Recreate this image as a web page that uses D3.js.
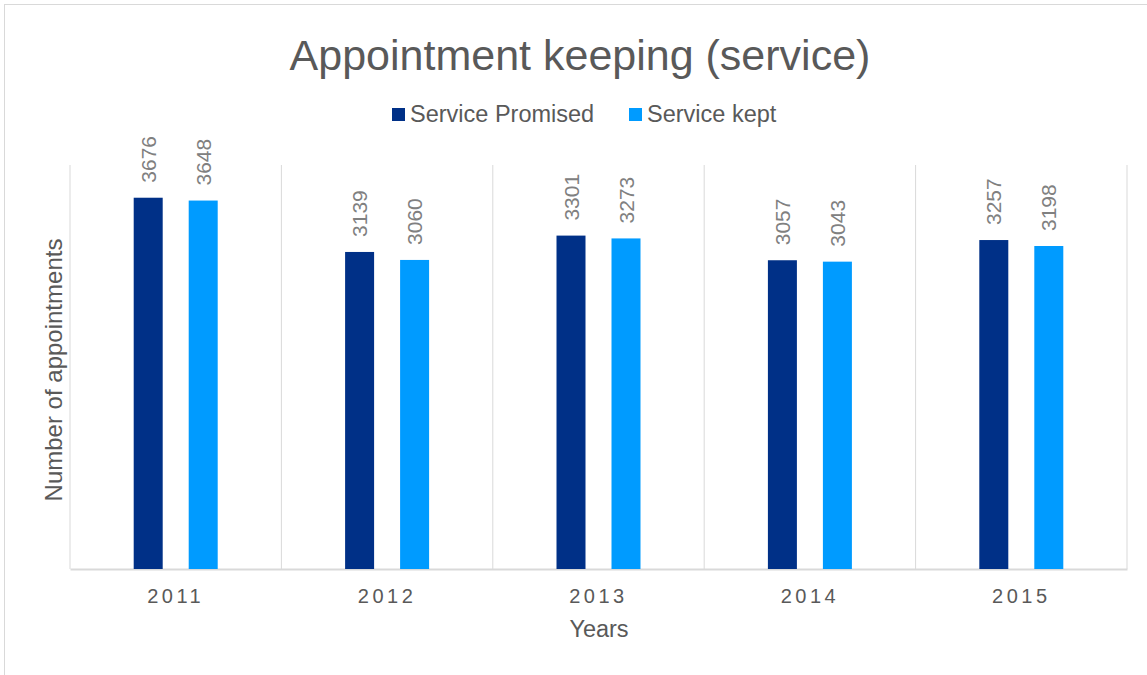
<!DOCTYPE html>
<html>
<head>
<meta charset="utf-8">
<script src="https://cdn.jsdelivr.net/npm/d3@7"></script>
<style>
  body { margin: 0; background: #fff; }
  svg { display: block; font-family: "Liberation Sans", Arial, sans-serif; }
</style>
</head>
<body>
<svg id="chart" width="1147" height="675"></svg>
<script>
var years = ['2011', '2012', '2013', '2014', '2015'];
var seriesNames = ['Service Promised', 'Service kept'];
var promised = [3676, 3139, 3301, 3057, 3257];
var kept = [3648, 3060, 3273, 3043, 3198];
var yDomain = [0, 4000];

var colors = ['#003087', '#009bff'];

var svg = d3.select('#chart'),
    margin = {top: 165, right: 20, bottom: 106, left: 70},
    width = 1127 - margin.left,
    height = 569 - margin.top;

// outer chart border (only top and left are visible in the frame)
svg.append('rect')
    .attr('x', 4.5).attr('y', 4.5)
    .attr('width', 1160).attr('height', 690)
    .style('fill', 'none')
    .style('stroke', '#d9d9d9');

var g = svg.append('g')
    .attr('transform', 'translate(' + margin.left + ',' + margin.top + ')');

var x = d3.scaleBand().domain(years).range([0, width]);
var y = d3.scaleLinear().domain(yDomain).range([height, 0]);

// vertical separators between categories
var seps = d3.range(years.length + 1).map(function(i) { return i * x.step(); });
g.selectAll('.sep')
    .data(seps)
    .enter()
    .append('line')
    .attr('class', 'sep')
    .attr('x1', function(d) { return d; })
    .attr('x2', function(d) { return d; })
    .attr('y1', 0)
    .attr('y2', height)
    .style('stroke', '#d9d9d9')
    .style('stroke-width', 1);

// x axis
var xAxis = g.append('g')
    .attr('transform', 'translate(0,' + height + ')')
    .call(d3.axisBottom(x).tickSize(0).tickPadding(20));
xAxis.select('.domain').style('stroke', '#d9d9d9').style('stroke-width', 2);
xAxis.selectAll('text')
    .style('font-size', '20px')
    .style('fill', '#595959')
    .style('letter-spacing', '3.5px')
    .style('font-family', '"Liberation Sans", Arial, sans-serif');

// bars
var barW = 29, gap = 26;
var rows = years.map(function(yr, i) { return {year: yr, vals: [promised[i], kept[i]]}; });

var grp = g.selectAll('.yr')
    .data(rows)
    .enter()
    .append('g')
    .attr('class', 'yr')
    .attr('transform', function(d) { return 'translate(' + (x(d.year) + x.bandwidth() / 2) + ',0)'; });

var offs = [-(gap / 2 + barW), gap / 2];

grp.selectAll('rect')
    .data(function(d) { return d.vals; })
    .enter()
    .append('rect')
    .attr('x', function(d, i) { return offs[i]; })
    .attr('y', function(d) { return y(d); })
    .attr('width', barW)
    .attr('height', function(d) { return height - y(d); })
    .style('fill', function(d, i) { return colors[i]; });

grp.selectAll('.lbl')
    .data(function(d) { return d.vals; })
    .enter()
    .append('text')
    .attr('class', 'lbl')
    .attr('transform', function(d, i) {
        return 'translate(' + (offs[i] + barW / 2 + 7.5) + ',' + (y(d) - 15) + ')rotate(-90)';
    })
    .style('font-size', '21px')
    .style('fill', '#808080')
    .text(function(d) { return d; });

// title
svg.append('text')
    .attr('x', 580)
    .attr('y', 70)
    .attr('text-anchor', 'middle')
    .style('font-size', '43px')
    .style('fill', '#595959')
    .text('Appointment keeping (service)');

// legend
var legendX = [392, 629];
var leg = svg.selectAll('.legend')
    .data(seriesNames)
    .enter()
    .append('g')
    .attr('class', 'legend')
    .attr('transform', function(d, i) { return 'translate(' + legendX[i] + ',108)'; });
leg.append('rect')
    .attr('width', 13).attr('height', 13)
    .style('fill', function(d, i) { return colors[i]; });
leg.append('text')
    .attr('x', 18)
    .attr('y', 13.5)
    .style('font-size', '23.5px')
    .style('fill', '#595959')
    .text(function(d) { return d; });

// axis titles
svg.append('text')
    .attr('x', 599)
    .attr('y', 637)
    .attr('text-anchor', 'middle')
    .style('font-size', '23.5px')
    .style('fill', '#595959')
    .text('Years');

svg.append('text')
    .attr('transform', 'translate(62,370)rotate(-90)')
    .attr('text-anchor', 'middle')
    .style('font-size', '24px')
    .style('fill', '#595959')
    .text('Number of appointments');
</script>
</body>
</html>
